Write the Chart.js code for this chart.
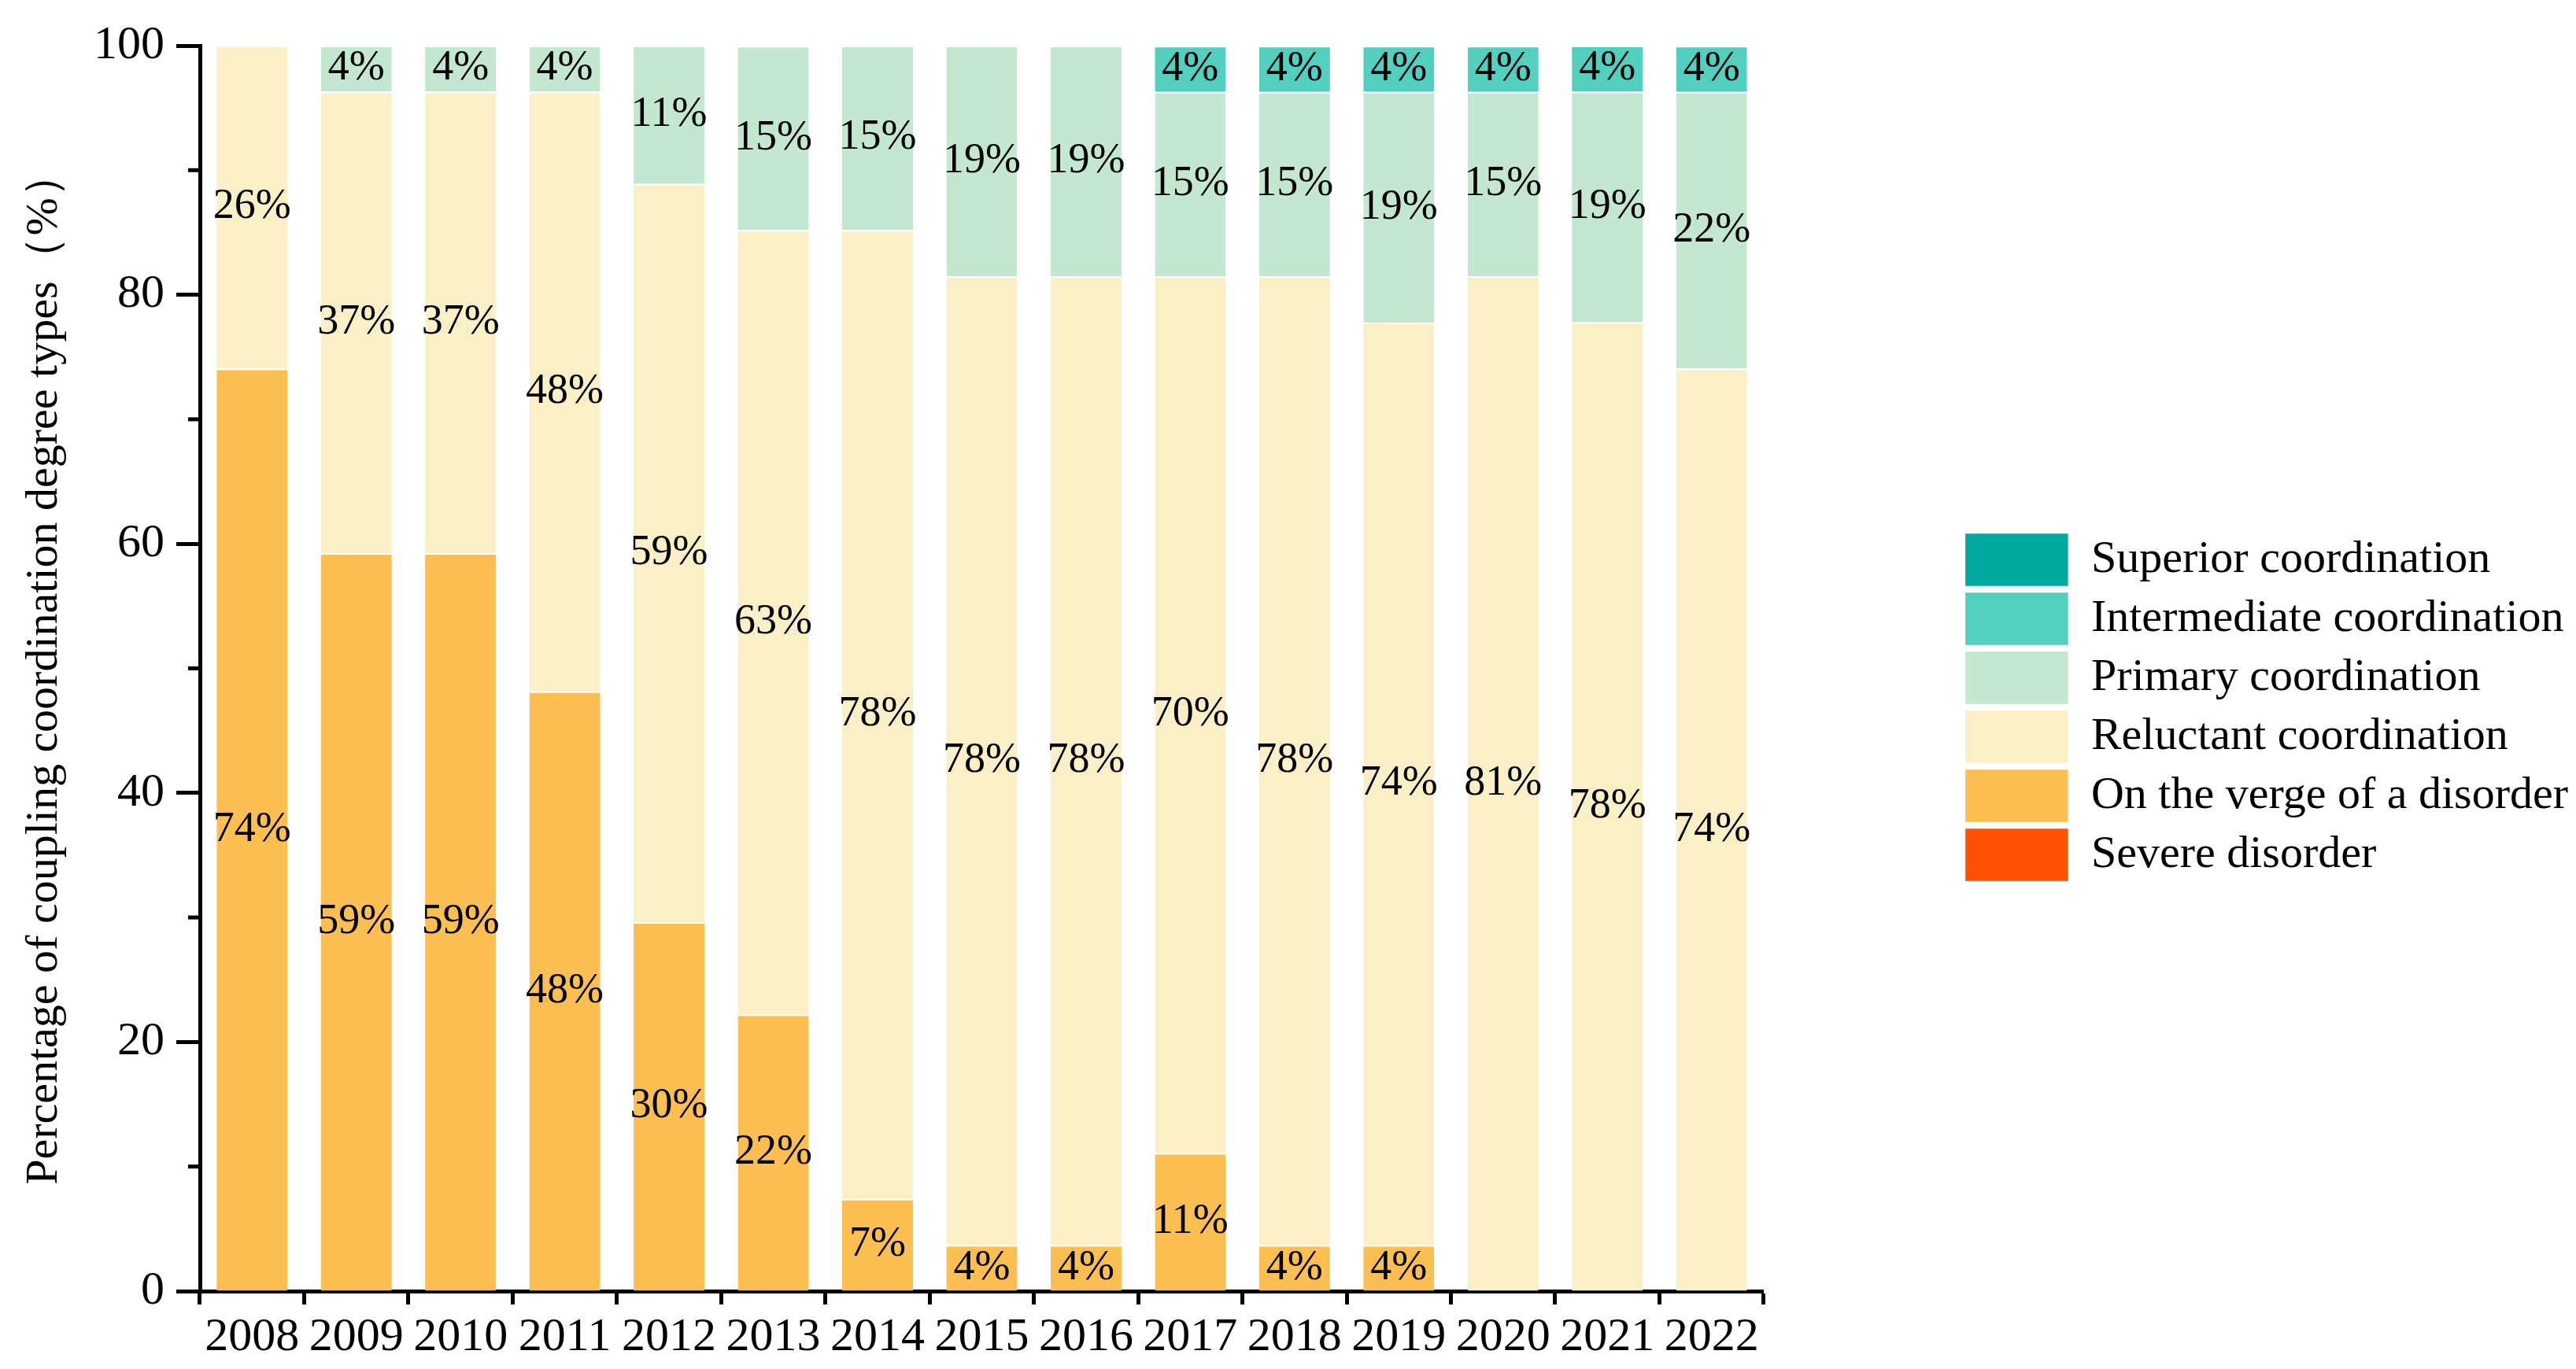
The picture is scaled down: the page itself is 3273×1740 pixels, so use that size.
<!DOCTYPE html>
<html>
<head>
<meta charset="utf-8">
<script src="https://cdn.jsdelivr.net/npm/chart.js@4"></script>
<style>
  html, body { margin: 0; padding: 0; background: #fff; }
  #wrap { width: 3273px; height: 1740px; }
</style>
</head>
<body>
<div id="wrap"><canvas id="CouplingChart"></canvas></div>
<script>
const years = ["2008", "2009", "2010", "2011", "2012", "2013", "2014", "2015", "2016", "2017", "2018", "2019", "2020", "2021", "2022"];

// share of each coordination type per year (%)
const severe       = [0, 0, 0, 0, 0, 0, 0, 0, 0, 0, 0, 0, 0, 0, 0];
const verge        = [74.07, 59.26, 59.26, 48.15, 29.63, 22.22, 7.41, 3.70, 3.70, 11.11, 3.70, 3.70, 0, 0, 0];
const reluctant    = [25.93, 37.04, 37.04, 48.15, 59.26, 62.96, 77.78, 77.78, 77.78, 70.37, 77.78, 74.07, 81.48, 77.78, 74.07];
const primary      = [0, 3.70, 3.70, 3.70, 11.11, 14.81, 14.81, 18.52, 18.52, 14.81, 14.81, 18.52, 14.81, 18.52, 22.22];
const intermediate = [0, 0, 0, 0, 0, 0, 0, 0, 0, 3.70, 3.70, 3.70, 3.70, 3.70, 3.70];
const superior     = [0, 0, 0, 0, 0, 0, 0, 0, 0, 0, 0, 0, 0, 0, 0];

const yTicks = [0, 20, 40, 60, 80, 100];
const yMinorTicks = [10, 30, 50, 70, 90];

const serif = "'Liberation Serif', 'Times New Roman', serif";

function series(label, data, color) {
    return {
        label: label,
        data: data,
        backgroundColor: color,
        borderColor: "#ffffff",
        borderWidth: { top: 2, left: 0, right: 0, bottom: 0 },
        borderSkipped: false,
        categoryPercentage: 1.0,
        barPercentage: 0.68,
    };
}

// percentage text in the middle of every segment
const barLabels = {
    id: "barLabels",
    afterDatasetsDraw(chart) {
        const ctx = chart.ctx;
        ctx.save();
        ctx.font = "54px " + serif;
        ctx.fillStyle = "#000";
        ctx.textAlign = "center";
        ctx.textBaseline = "middle";
        chart.data.datasets.forEach((ds, i) => {
            const meta = chart.getDatasetMeta(i);
            meta.data.forEach((bar, j) => {
                const v = ds.data[j];
                if (!v) return;
                ctx.fillText(Math.round(v) + "%", bar.x, (bar.y + bar.base) / 2);
            });
        });
        ctx.restore();
    },
};

// short minor ticks on the y axis
const minorTicks = {
    id: "minorTicks",
    afterDraw(chart) {
        const y = chart.scales.y;
        const x0 = chart.chartArea.left;
        const ctx = chart.ctx;
        ctx.save();
        ctx.strokeStyle = "#000";
        ctx.lineWidth = 5;
        yMinorTicks.forEach(v => {
            const py = y.getPixelForValue(v);
            ctx.beginPath();
            ctx.moveTo(x0 - 15, py);
            ctx.lineTo(x0, py);
            ctx.stroke();
        });
        ctx.restore();
    },
};

new Chart(document.getElementById("CouplingChart"), {
    type: "bar",
    data: {
        labels: years,
        datasets: [
            series("Severe disorder", severe, "#FF5100"),
            series("On the verge of a disorder", verge, "#FDBE52"),
            series("Reluctant coordination", reluctant, "#FAEFC7"),
            series("Primary coordination", primary, "#C4E8CF"),
            series("Intermediate coordination", intermediate, "#52CFBF"),
            series("Superior coordination", superior, "#00A99D"),
        ],
    },
    options: {
        responsive: true,
        maintainAspectRatio: false,
        animation: false,
        layout: {
            padding: { top: 58, left: 0, right: 0, bottom: 0 },
        },
        plugins: {
            tooltip: { enabled: false },
            legend: {
                position: "right",
                reverse: true,
                maxWidth: 820,
                labels: {
                    boxWidth: 131,
                    boxHeight: 67,
                    padding: 8,
                    color: "#000",
                    font: { family: serif, size: 58 },
                },
            },
        },
        scales: {
            x: {
                stacked: true,
                offset: true,
                grid: {
                    offset: true,
                    drawOnChartArea: false,
                    color: "#000",
                    tickLength: 17,
                    tickWidth: 5,
                },
                border: { color: "#000", width: 5 },
                ticks: {
                    color: "#000",
                    padding: 6,
                    maxRotation: 0,
                    autoSkip: false,
                    font: { family: serif, size: 60 },
                },
                afterFit(s) { s.height = 99; },
            },
            y: {
                stacked: true,
                min: 0,
                max: 100,
                afterBuildTicks(s) { s.ticks = yTicks.map(v => ({ value: v })); },
                grid: {
                    drawOnChartArea: false,
                    color: "#000",
                    tickLength: 30,
                    tickWidth: 5,
                },
                border: { color: "#000", width: 5 },
                ticks: {
                    color: "#000",
                    padding: 15,
                    font: { family: serif, size: 60 },
                },
                title: {
                    display: true,
                    text: "Percentage of coupling coordination degree types（%）",
                    color: "#000",
                    font: { family: serif, size: 58 },
                    padding: { top: 22, bottom: 0 },
                },
                afterFit(s) { s.width = 254; },
            },
            gap: {
                type: "linear",
                position: "right",
                display: true,
                grid: { display: false },
                border: { display: false },
                ticks: { display: false },
                afterFit(s) { s.width = 248; },
            },
        },
    },
    plugins: [barLabels, minorTicks],
});
</script>
</body>
</html>
